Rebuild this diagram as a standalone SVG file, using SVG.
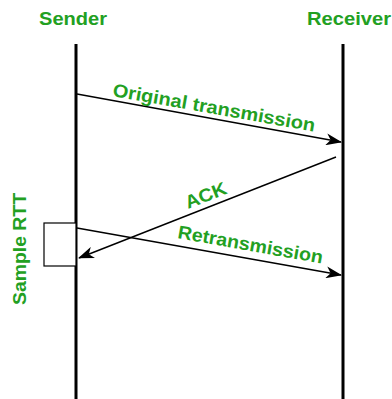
<svg xmlns="http://www.w3.org/2000/svg" width="392" height="399" viewBox="0 0 392 399">
  <style>
    .lbl { font-family: "Liberation Sans", Arial, sans-serif; font-weight: bold; font-size: 18.5px; fill: #22a022; }
    .life { stroke: #000; stroke-width: 3; fill: none; }
    .msg { stroke: #000; stroke-width: 1.4; fill: none; marker-end: url(#arrow); }
    .box { stroke: #000; stroke-width: 1.2; fill: #fff; }
  </style>
  <defs>
    <marker id="arrow" viewBox="0 0 16 12" refX="15" refY="6" markerWidth="16" markerHeight="12" markerUnits="userSpaceOnUse" orient="auto">
      <path d="M0,0 L16,6 L0,12 L4.5,6 Z" fill="#000"/>
    </marker>
  </defs>

  <!-- participants -->
  <g id="sender">
    <text class="lbl" x="39" y="25" textLength="68" lengthAdjust="spacingAndGlyphs">Sender</text>
    <line class="life" x1="76" y1="44" x2="76" y2="399"/>
  </g>
  <g id="receiver">
    <text class="lbl" x="307" y="25" textLength="84" lengthAdjust="spacingAndGlyphs">Receiver</text>
    <line class="life" x1="343" y1="44" x2="343" y2="399"/>
  </g>

  <!-- RTT sample interval -->
  <g id="sample-rtt">
    <rect class="box" x="44" y="223" width="32" height="43"/>
    <text class="lbl" transform="translate(26,305) rotate(-90)" textLength="112" lengthAdjust="spacingAndGlyphs">Sample RTT</text>
  </g>

  <!-- messages -->
  <g id="connectors">
    <line class="msg" x1="77" y1="94" x2="341" y2="142"/>
    <line class="msg" x1="336" y1="157" x2="79" y2="258"/>
    <line class="msg" x1="77" y1="228" x2="341" y2="275"/>
  </g>

  <g id="labels">
    <text class="lbl" transform="translate(112,96) rotate(10)" textLength="205" lengthAdjust="spacingAndGlyphs">Original transmission</text>
    <text class="lbl" transform="translate(188,209) rotate(-21.4)" textLength="43" lengthAdjust="spacingAndGlyphs">ACK</text>
    <text class="lbl" transform="translate(177,238) rotate(10)" textLength="147" lengthAdjust="spacingAndGlyphs">Retransmission</text>
  </g>
</svg>
